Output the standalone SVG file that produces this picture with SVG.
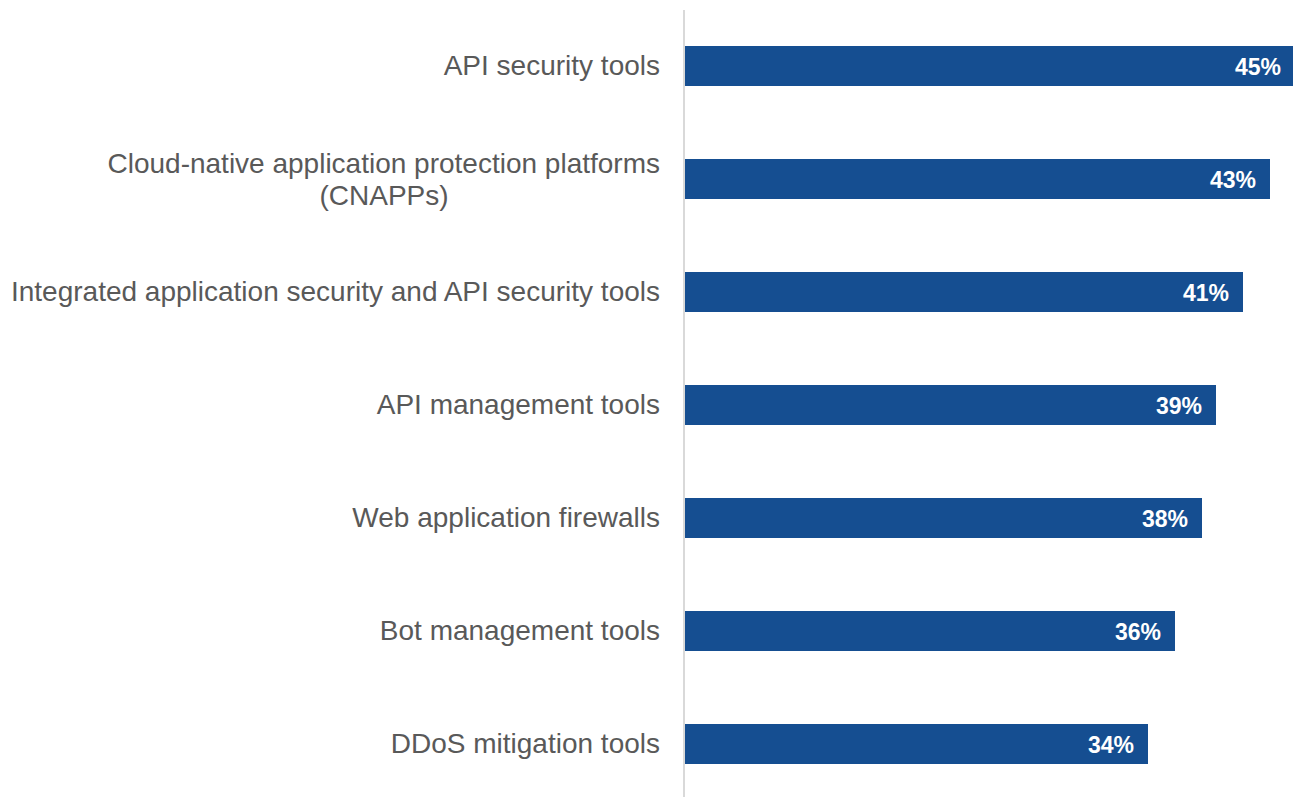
<svg xmlns="http://www.w3.org/2000/svg" width="1293" height="797" viewBox="0 0 1293 797">
<style>
.lbl{font-family:"Liberation Sans",Arial,sans-serif;font-size:28px;fill:#595959;text-anchor:end}
.val{font-family:"Liberation Sans",Arial,sans-serif;font-size:23px;font-weight:bold;fill:#ffffff;text-anchor:end}
.bar{fill:#154e91}
</style>
<rect width="1293" height="797" fill="#ffffff"/>
<g id="axis"><line x1="684" y1="10" x2="684" y2="797" stroke="#d9d9d9" stroke-width="2"/></g>
<g id="row1"><rect class="bar" x="685" y="46" width="608" height="40"/><text class="lbl" x="660" y="75">API security tools</text><text class="val" x="1281" y="75">45%</text></g>
<g id="row2"><rect class="bar" x="685" y="159" width="585" height="40"/><text class="lbl" x="660" y="173">Cloud-native application protection platforms</text><text class="lbl" x="384" y="205" style="text-anchor:middle">(CNAPPs)</text><text class="val" x="1256" y="188">43%</text></g>
<g id="row3"><rect class="bar" x="685" y="272" width="558" height="40"/><text class="lbl" x="660" y="301">Integrated application security and API security tools</text><text class="val" x="1229" y="301">41%</text></g>
<g id="row4"><rect class="bar" x="685" y="385" width="531" height="40"/><text class="lbl" x="660" y="414">API management tools</text><text class="val" x="1202" y="414">39%</text></g>
<g id="row5"><rect class="bar" x="685" y="498" width="517" height="40"/><text class="lbl" x="660" y="527">Web application firewalls</text><text class="val" x="1188" y="527">38%</text></g>
<g id="row6"><rect class="bar" x="685" y="611" width="490" height="40"/><text class="lbl" x="660" y="640">Bot management tools</text><text class="val" x="1161" y="640">36%</text></g>
<g id="row7"><rect class="bar" x="685" y="724" width="463" height="40"/><text class="lbl" x="660" y="753">DDoS mitigation tools</text><text class="val" x="1134" y="753">34%</text></g>
</svg>
